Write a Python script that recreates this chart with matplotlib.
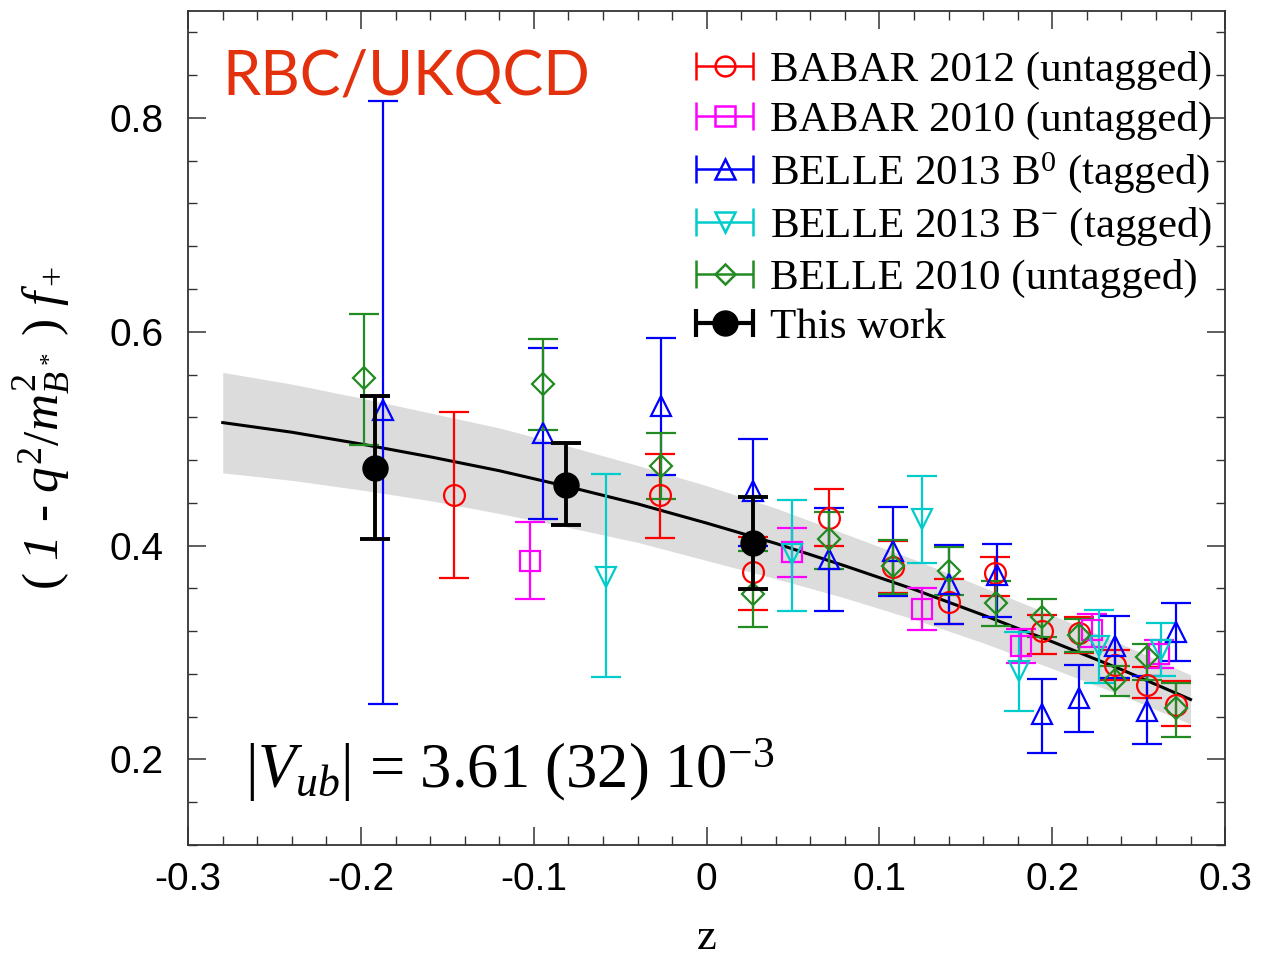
import numpy as np
import matplotlib
matplotlib.use("Agg")
import matplotlib.pyplot as plt
from matplotlib.ticker import MultipleLocator, FuncFormatter
from matplotlib.container import ErrorbarContainer
from matplotlib.legend_handler import HandlerErrorbar

plt.rcParams['axes.unicode_minus'] = False
plt.rcParams['mathtext.fontset'] = 'custom'
plt.rcParams['mathtext.rm'] = 'Liberation Serif'
plt.rcParams['mathtext.it'] = 'Liberation Serif:italic'

# fit curve and error band
fit_z = [-0.28, -0.24, -0.20, -0.16, -0.12, -0.08, -0.04, 0.00, 0.04, 0.08, 0.12, 0.16, 0.20, 0.24, 0.28]
fit_y = [0.515, 0.506, 0.495, 0.483, 0.470, 0.455, 0.439, 0.421, 0.402, 0.381, 0.359, 0.335, 0.310, 0.284, 0.256]
fit_hi = [0.562, 0.551, 0.538, 0.524, 0.510, 0.493, 0.475, 0.456, 0.435, 0.411, 0.387, 0.361, 0.335, 0.308, 0.279]
fit_lo = [0.468, 0.461, 0.452, 0.442, 0.430, 0.417, 0.403, 0.386, 0.369, 0.351, 0.331, 0.309, 0.285, 0.260, 0.233]

# BABAR 2012 (untagged)
babar12_z = [-0.146, -0.027, 0.027, 0.071, 0.108, 0.140, 0.167, 0.194, 0.2155, 0.236, 0.255, 0.2715]
babar12_y = [0.447, 0.447, 0.375, 0.426, 0.380, 0.347, 0.374, 0.320, 0.318, 0.288, 0.270, 0.251]
babar12_lo = [0.370, 0.4075, 0.340, 0.400, 0.356, 0.327, 0.3525, 0.299, 0.2995, 0.274, 0.2575, 0.231]
babar12_hi = [0.525, 0.4855, 0.408, 0.453, 0.404, 0.369, 0.389, 0.335, 0.333, 0.302, 0.286, 0.273]

# BABAR 2010 (untagged)
babar10_z = [-0.1025, 0.0496, 0.1248, 0.1817, 0.223, 0.2616]
babar10_y = [0.386, 0.3935, 0.341, 0.3065, 0.321, 0.299]
babar10_lo = [0.350, 0.371, 0.321, 0.290, 0.305, 0.285]
babar10_hi = [0.422, 0.416, 0.360, 0.322, 0.336, 0.312]

# BELLE 2013 B0 (tagged)
belle13b0_z = [-0.187, -0.0945, -0.0266, 0.027, 0.071, 0.108, 0.140, 0.168, 0.194, 0.2155, 0.236, 0.2546, 0.2714]
belle13b0_y = [0.527, 0.5055, 0.531, 0.451, 0.387, 0.395, 0.3636, 0.372, 0.242, 0.2577, 0.306, 0.2454, 0.3195]
belle13b0_lo = [0.252, 0.425, 0.466, 0.400, 0.339, 0.3525, 0.327, 0.333, 0.2055, 0.226, 0.276, 0.214, 0.2917]
belle13b0_hi = [0.816, 0.585, 0.594, 0.500, 0.435, 0.436, 0.4006, 0.401, 0.275, 0.288, 0.334, 0.2778, 0.346]

# BELLE 2013 B- (tagged)
belle13bm_z = [-0.0584, 0.0496, 0.1248, 0.181, 0.2268, 0.2627]
belle13bm_y = [0.371, 0.392, 0.425, 0.2825, 0.306, 0.302]
belle13bm_lo = [0.277, 0.339, 0.384, 0.245, 0.271, 0.278]
belle13bm_hi = [0.467, 0.4425, 0.4655, 0.319, 0.340, 0.328]

# BELLE 2010 (untagged)
belle10_z = [-0.198, -0.0945, -0.0266, 0.027, 0.071, 0.108, 0.140, 0.1677, 0.194, 0.2155, 0.236, 0.2546, 0.2714]
belle10_y = [0.557, 0.551, 0.474, 0.355, 0.406, 0.381, 0.376, 0.346, 0.333, 0.316, 0.274, 0.2957, 0.2485]
belle10_lo = [0.494, 0.508, 0.4435, 0.324, 0.378, 0.355, 0.3534, 0.3247, 0.314, 0.300, 0.2593, 0.274, 0.2207]
belle10_hi = [0.617, 0.593, 0.505, 0.3947, 0.431, 0.405, 0.399, 0.367, 0.350, 0.331, 0.287, 0.308, 0.2716]

# This work
this_z = [-0.1917, -0.0812, 0.027]
this_y = [0.473, 0.457, 0.402]
this_lo = [0.406, 0.4195, 0.359]
this_hi = [0.540, 0.496, 0.445]

series = [
    ("BABAR 2012 (untagged)", babar12_z, babar12_y, babar12_lo, babar12_hi, 'o', 15, '#ff0000'),
    ("BABAR 2010 (untagged)", babar10_z, babar10_y, babar10_lo, babar10_hi, 's', 15, '#ff00ff'),
    ("BELLE 2013 B$^0$ (tagged)", belle13b0_z, belle13b0_y, belle13b0_lo, belle13b0_hi, '^', 15, '#0000ff'),
    ("BELLE 2013 B$^{-}$ (tagged)", belle13bm_z, belle13bm_y, belle13bm_lo, belle13bm_hi, 'v', 15, '#00cccc'),
    ("BELLE 2010 (untagged)", belle10_z, belle10_y, belle10_lo, belle10_hi, 'D', 11, '#228b22'),
]

fig = plt.figure(figsize=(12.63, 9.59), dpi=100)
ax = fig.add_axes([0.149, 0.119, 0.821, 0.8695])

ax.fill_between(fit_z, fit_lo, fit_hi, color='#dcdcdc', lw=0, zorder=1)
ax.plot(fit_z, fit_y, color='black', lw=2.2, zorder=2)

handles = []
for label, z, y, lo, hi, mk, ms, col in series:
    y = np.array(y)
    yerr = [y - np.array(lo), np.array(hi) - y]
    ax.errorbar(z, y, yerr=yerr, fmt=mk, ms=ms, mfc='none', mec=col, mew=1.6,
                color=col, elinewidth=1.6, capsize=11, capthick=1.6, zorder=3)
    h = ax.errorbar([np.nan], [np.nan], xerr=[1], fmt=mk, ms=ms * 0.95, mfc='none', mec=col,
                    mew=1.8, color=col, elinewidth=1.8, capsize=10, capthick=1.8, label=label)
    handles.append(h)

ty = np.array(this_y)
ax.errorbar(this_z, ty, yerr=[ty - np.array(this_lo), np.array(this_hi) - ty], fmt='o', ms=18,
            mfc='black', mec='black', color='black', elinewidth=2.8, capsize=11, capthick=2.8, zorder=4)
h = ax.errorbar([np.nan], [np.nan], xerr=[1], fmt='o', ms=18, mfc='black', mec='black',
                color='black', elinewidth=3.0, capsize=10, capthick=3.0, label="This work")
handles.append(h)

ax.set_xlim(-0.3, 0.3)
ax.set_ylim(0.12, 0.9)
ax.xaxis.set_major_locator(MultipleLocator(0.1))
ax.xaxis.set_minor_locator(MultipleLocator(0.02))
ax.yaxis.set_major_locator(MultipleLocator(0.2))
ax.yaxis.set_minor_locator(MultipleLocator(0.04))
ax.xaxis.set_major_formatter(FuncFormatter(lambda v, p: f"{round(v, 2):g}"))
ax.yaxis.set_major_formatter(FuncFormatter(lambda v, p: f"{round(v, 2):g}"))
ax.tick_params(which='both', direction='in', top=True, right=True, color='#333333')
ax.tick_params(which='major', length=13, width=1.1, labelsize=28, pad=12)
ax.tick_params(axis='y', which='major', pad=18)
ax.tick_params(which='minor', length=6.5, width=1.0)
for lab in ax.get_xticklabels() + ax.get_yticklabels():
    lab.set_fontfamily('Liberation Sans')
for sp in ax.spines.values():
    sp.set_linewidth(1.3)
    sp.set_color('#333333')

ax.set_xlabel("z", family='Liberation Serif', fontsize=32, labelpad=15)
ax.set_ylabel(r"$(\ $1 - $q^2/m^2_{B^*}\ )\ f_+$", family='Liberation Serif',
              fontstyle='italic', fontsize=37, labelpad=26)

ax.text(0.033, 0.899, "RBC/UKQCD", transform=ax.transAxes, family='Lato', fontsize=44,
        color='#e3310e', va='baseline', ha='left')
ax.text(0.055, 0.068, r"$|V_{ub}|$ = 3.61 (32) 10$^{-3}$", transform=ax.transAxes,
        family='Liberation Serif', fontsize=45, va='baseline', ha='left')

leg = ax.legend(handles=handles, loc='upper left', bbox_to_anchor=(0.49, 0.952), frameon=False,
                prop={'family': 'Liberation Serif', 'size': 31}, handlelength=1.33,
                handletextpad=0.38, labelspacing=0.245, borderpad=0, borderaxespad=0,
                handler_map={ErrorbarContainer: HandlerErrorbar(xerr_size=0.66)})

fig.savefig("out.png", dpi=100)
